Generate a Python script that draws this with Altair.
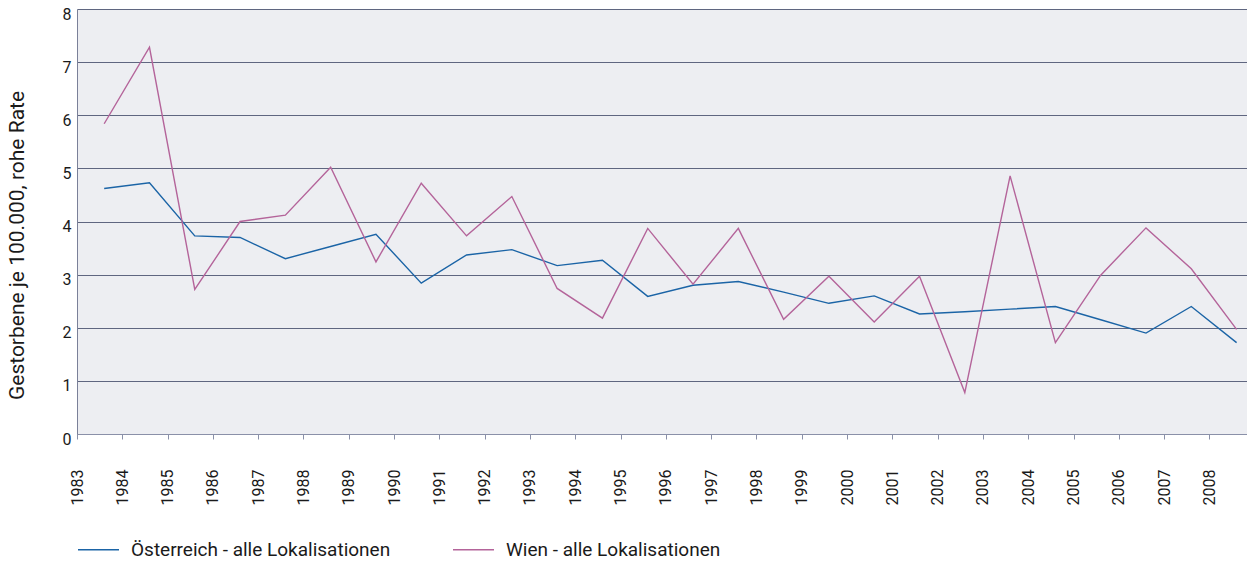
import altair as alt
import pandas as pd

years = list(range(1983, 2009))
oesterreich = [4.62, 4.73, 3.73, 3.70, 3.30, 3.53, 3.76, 2.84, 3.37, 3.47, 3.17, 3.27, 2.59,
               2.80, 2.87, 2.67, 2.46, 2.60, 2.26, 2.30, 2.35, 2.40, 2.15, 1.90, 2.40, 1.72]
wien = [5.84, 7.28, 2.72, 4.00, 4.12, 5.02, 3.24, 4.72, 3.73, 4.47, 2.74, 2.18, 3.87,
        2.82, 3.87, 2.16, 2.97, 2.11, 2.97, 0.78, 4.86, 1.72, 2.99, 3.88, 3.11, 1.97]
series_names = ["Österreich - alle Lokalisationen", "Wien - alle Lokalisationen"]
series_colors = ["#1b64a6", "#b4649a"]
y_ticks = list(range(0, 9))

df = pd.concat([
    pd.DataFrame({"Jahr": years, "Rate": oesterreich, "Serie": series_names[0]}),
    pd.DataFrame({"Jahr": years, "Rate": wien, "Serie": series_names[1]}),
])

FONT = "Roboto"
TXT = "#1a1a1a"

chart = alt.Chart(df).transform_calculate(
    xpos="datum.Jahr + 0.6"
).mark_line(strokeWidth=1.4).encode(
    x=alt.X("xpos:Q",
            scale=alt.Scale(domain=[1983, 2008.83], nice=False, zero=False),
            axis=alt.Axis(values=years, format="d", labelAngle=-90, labelPadding=30,
                          tickSize=5, tickColor="#8a90a8", domainColor="#8a90a8",
                          grid=False, title=None, labelFontSize=16, labelColor=TXT,
                          labelFont=FONT)),
    y=alt.Y("Rate:Q",
            scale=alt.Scale(domain=[0, 8], nice=False),
            axis=alt.Axis(values=y_ticks, format="d", title="Gestorbene je 100.000, rohe Rate",
                          titleFontSize=21, titleFontWeight="normal", titleColor=TXT, titleFont=FONT,
                          titleX=-50, titleY=236, titleBaseline="bottom",
                          labelFontSize=16, labelColor=TXT, labelFont=FONT, labelPadding=6,
                          labelOffset=5,
                          ticks=False, domainColor="#7a8098",
                          grid=True, gridColor="#5f6680", gridWidth=1)),
    color=alt.Color("Serie:N",
                    scale=alt.Scale(domain=series_names, range=series_colors),
                    legend=alt.Legend(orient="none", legendX=0, legendY=519, direction="horizontal",
                                      title=None, symbolType="stroke", symbolSize=1681,
                                      symbolStrokeWidth=1.5, labelFontSize=19, labelFont=FONT,
                                      labelColor=TXT, labelOffset=11, columnPadding=59,
                                      labelLimit=600)),
).properties(
    width=1170, height=425,
    autosize=alt.AutoSizeParams(type="none"),
    padding={"left": 69, "top": 1, "right": 0, "bottom": 122},
).configure_view(
    fill="#edeef2", stroke=None
)

chart.save("out.html", embed_options={"renderer": "svg", "actions": False})
